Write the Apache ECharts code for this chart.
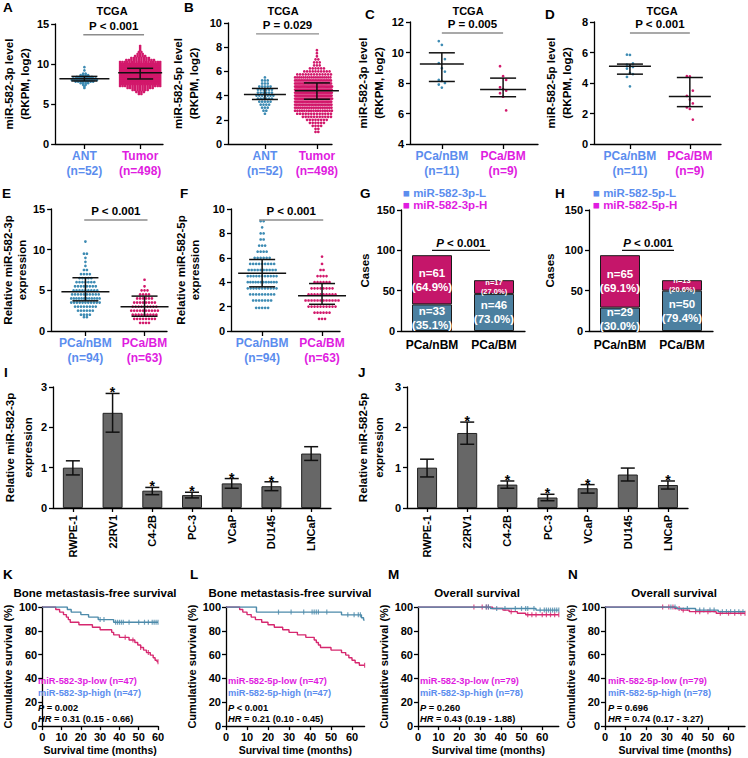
<!DOCTYPE html>
<html>
<head>
<meta charset="utf-8">
<script src="https://cdn.jsdelivr.net/npm/echarts@6/dist/echarts.min.js"></script>
<style>
html,body{margin:0;padding:0;background:#fff;}
#chart{width:748px;height:758px;}
</style>
</head>
<body>
<div id="chart"></div>
<script>
// ================= DATA =================
// --- A: TCGA miR-582-3p level; beeswarm given as [value, count] ---
const A_cats = ['ANT', 'Tumor'];
const A_n = [52, 498];
const A_antBins = [[7.0,1],[7.2,1],[7.4,2],[7.6,4],[7.8,8],[8.0,11],[8.2,10],[8.4,7],[8.6,4],[8.8,2],[9.2,1],[9.6,1]];
const A_tumorBins = [[6.25,2],[6.5,4],[6.75,7],[7.0,11],[7.25,17],[7.5,24],[7.75,31],[8.0,37],[8.25,42],[8.5,44],[8.75,46],[9.0,45],[9.25,42],[9.5,38],[9.75,32],[10.0,25],[10.25,18],[10.5,12],[10.75,8],[11.0,5],[11.25,3],[11.5,2],[11.75,1],[12.0,1],[12.25,1]];
const A_stats = [[8.17,7.88,8.45],[8.92,8.13,9.46]]; // [centre, low, high]
const A_p = 'P < 0.001';

// --- B: TCGA miR-582-5p level ---
const B_cats = ['ANT', 'Tumor'];
const B_n = [52, 498];
const B_antBins = [[2.5,1],[2.75,2],[3.0,3],[3.25,4],[3.5,5],[3.75,6],[4.0,7],[4.25,6],[4.5,6],[4.75,5],[5.0,3],[5.25,3],[5.5,1]];
const B_tumorBins = [[1.0,2],[1.25,2],[1.5,4],[1.75,6],[2.0,8],[2.25,11],[2.5,15],[2.75,20],[3.0,25],[3.25,31],[3.5,36],[3.75,40],[4.0,44],[4.25,45],[4.5,44],[4.75,40],[5.0,35],[5.25,29],[5.5,22],[5.75,15],[6.0,10],[6.25,6],[6.5,3],[6.75,3],[7.0,2],[7.25,1],[7.5,1],[7.75,1]];
const B_stats = [[4.09,3.68,4.59],[4.4,3.7,5.05]];
const B_p = 'P = 0.029';

// --- C: TCGA miR-582-3p, nBM vs BM ---
const C_cats = ['PCa/nBM', 'PCa/BM'];
const C_n = [11, 9];
const C_nbm = [10.75,10.5,9.57,9.3,8.97,8.75,8.2,8.14,8.0,7.9,7.7];
const C_bm = [9.1,8.45,8.2,7.72,7.6,7.5,7.33,7.1,6.2];
const C_stats = [[9.25,8.1,9.98],[7.57,7.1,8.32]];
const C_p = 'P = 0.005';

// --- D: TCGA miR-582-5p, nBM vs BM ---
const D_cats = ['PCa/nBM', 'PCa/BM'];
const D_n = [11, 9];
const D_nbm = [5.86,5.84,5.28,5.2,5.1,5.05,4.95,4.66,4.58,4.4,3.78];
const D_bm = [4.45,4.43,3.5,3.16,2.92,2.66,2.4,2.3,1.6];
const D_stats = [[5.1,4.58,5.24],[3.12,2.45,4.36]];
const D_p = 'P < 0.001';

// --- E: relative miR-582-3p expression ---
const E_cats = ['PCa/nBM', 'PCa/BM'];
const E_n = [94, 63];
const E_nbmBins = [[1.7,2],[2.0,4],[2.5,6],[3.0,8],[3.5,11],[4.0,12],[4.5,10],[5.0,9],[5.5,8],[6.0,7],[6.5,5],[7.0,4],[7.5,2],[8.0,1],[8.5,1],[9.0,1],[9.5,2],[11.0,1]];
const E_bmBins = [[1.0,4],[1.5,8],[2.0,9],[2.5,10],[3.0,9],[3.5,8],[4.0,6],[4.5,4],[5.0,3],[5.5,1],[6.3,1]];
const E_stats = [[4.82,3.71,6.55],[2.97,1.81,4.29]];
const E_p = 'P < 0.001';

// --- F: relative miR-582-5p expression ---
const F_cats = ['PCa/nBM', 'PCa/BM'];
const F_n = [94, 63];
const F_nbmBins = [[1.9,5],[2.5,7],[3.0,9],[3.5,11],[4.0,12],[4.5,11],[5.0,10],[5.5,9],[6.0,6],[6.5,4],[7.0,3],[7.5,2],[8.0,2],[8.5,1],[9.0,2]];
const F_bmBins = [[1.0,3],[1.5,6],[2.0,10],[2.5,12],[3.0,10],[3.5,8],[4.0,6],[4.5,4],[5.0,2],[5.5,1],[6.1,1]];
const F_stats = [[4.74,3.62,5.86],[2.88,2.19,3.89]];
const F_p = 'P < 0.001';

// --- G / H: stacked case counts ---
const GH_cats = ['PCa/nBM', 'PCa/BM'];
const G_low = [33, 46];
const G_high = [61, 17];
const G_lowPct = ['35.1%', '73.0%'];
const G_highPct = ['64.9%', '27.0%'];
const G_legend = ['miR-582-3p-L', 'miR-582-3p-H'];
const H_low = [29, 50];
const H_high = [65, 13];
const H_lowPct = ['30.0%', '79.4%'];
const H_highPct = ['69.1%', '20.6%'];
const H_legend = ['miR-582-5p-L', 'miR-582-5p-H'];
const GH_p = ' < 0.001';

// --- I / J: cell lines ---
const cellLines = ['RWPE-1', '22RV1', 'C4-2B', 'PC-3', 'VCaP', 'DU145', 'LNCaP'];
const I_mean = [1.0, 2.36, 0.43, 0.32, 0.61, 0.54, 1.35];
const I_low  = [0.82, 1.88, 0.33, 0.25, 0.49, 0.43, 1.18];
const I_high = [1.17, 2.84, 0.51, 0.39, 0.73, 0.65, 1.52];
const I_star = [0, 1, 1, 1, 1, 1, 0];
const J_mean = [1.0, 1.86, 0.58, 0.26, 0.49, 0.83, 0.57];
const J_low  = [0.77, 1.58, 0.49, 0.18, 0.37, 0.67, 0.47];
const J_high = [1.21, 2.13, 0.67, 0.34, 0.58, 0.99, 0.67];
const J_star = [0, 1, 1, 1, 1, 0, 1];

// --- K-N: Kaplan-Meier curves [months, survival %] and censor times ---
const K_low = [[0,100],[7,97.9],[9,95.7],[11,93.6],[12.5,91.5],[13.5,89.4],[14.5,87.2],[19,85.1],[26,83],[30,80.9],[36,78.7],[37,76.6],[40,74.5],[45,72.3],[48,70.2],[49.5,68.1],[51,66],[52.5,63.8],[54,61.7],[56,59.6],[57.5,57.4],[58.5,55.3],[59.5,54],[60,54]];
const K_lowCens = [43, 47, 51, 55, 60];
const K_high = [[0,100],[13,97.9],[15,95.7],[20,93.6],[24,91.5],[29,89.4],[37,87.2],[60,87.2]];
const K_highCens = [30, 32, 38, 39, 40, 41, 42, 45, 50, 53, 55, 57, 58, 59, 60];
const L_low = [[0,100],[6.5,97.9],[8,95.7],[10,93.6],[12,91.5],[14,89.4],[17,87.2],[20,85.1],[23,83],[27,80.9],[30,78.7],[34,76.6],[38,74.5],[42,72.3],[43,70.2],[44,68.1],[45,66],[50,63.8],[55,61.7],[57,59.6],[58.5,57.4],[60,55.3],[61.5,53.2],[63.5,51.1],[66,51.1]];
const L_lowCens = [66];
const L_high = [[0,100],[14.5,95.7],[55,93.4],[64.5,91],[65.5,89],[66,89]];
const L_highCens = [25, 31, 37, 41, 42, 43, 44, 48, 58, 61, 63, 64];
const M_low = [[0,100],[36,98.7],[41,97.4],[44,96.1],[48,94.8],[52,93.5],[68,93.5]];
const M_lowCens = [27, 31, 33, 34, 45, 53, 55, 57, 60, 62, 64, 66, 68];
const M_high = [[0,100],[35,98.7],[57,97.4],[68,97.4]];
const M_highCens = [33, 34, 38, 42, 47, 50, 52, 53, 56, 59, 61, 62, 63, 64, 65, 66, 67, 68];
const N_low = [[0,100],[34,98.7],[37,97.4],[41,96.1],[54,94.8],[68,94.8]];
const N_lowCens = [28, 31, 33, 36, 38, 44, 46, 50, 56, 60, 63, 66, 68];
const N_high = [[0,100],[35,98.7],[44,97.4],[55,96.1],[68,96.1]];
const N_highCens = [32, 34, 40, 46, 48, 51, 53, 57, 59, 61, 63, 65, 67];
const K_legend = ['miR-582-3p-low (n=47)', 'miR-582-3p-high (n=47)', '= 0.002', '= 0.31 (0.15 - 0.66)'];
const L_legend = ['miR-582-5p-low (n=47)', 'miR-582-5p-high (n=47)', '< 0.001', '= 0.21 (0.10 - 0.45)'];
const M_legend = ['miR-582-3p-low (n=79)', 'miR-582-3p-high (n=78)', '= 0.260', '= 0.43 (0.19 - 1.88)'];
const N_legend = ['miR-582-5p-low (n=79)', 'miR-582-5p-high (n=78)', '= 0.696', '= 0.74 (0.17 - 3.27)'];

// ================= STYLE / LAYOUT =================
const F = '"Liberation Sans", Arial, Helvetica, sans-serif';
const C_LBLUE = '#5B8DEE', C_MAG = '#E01CE0';
const C_PBLUE = '#3D8BB3', C_PRED = '#D2186B';
const C_BAR_B = '#4C80A0', C_BAR_R = '#C5166A';
const C_GRAY = '#676767';
const C_KM_R = '#D6286F', C_KM_B = '#4C8AAA';

const LAYOUT = {
  A:{l:49,t:24,w:114,h:120,xr:[-0.525,1.41],ng:16,lh:16, half:[0.42,0.36], mean:[25,22], dx:0.045},
  B:{l:228,t:23,w:104,h:121,xr:[-0.71,1.29],ng:26,lh:16, half:[0.27,0.42], mean:[21,22], dx:0.054},
  C:{l:410,t:22,w:128,h:122,xr:[-0.52,1.57],ng:23,lh:16, mean:[22,23]},
  D:{l:594,t:22,w:127,h:122,xr:[-0.6,1.52],ng:19,lh:16, mean:[21,21]},
  E:{l:49,t:209,w:118,h:122,xr:[-0.58,1.38],ng:20,lh:14, half:[0.24,0.32], mean:[24,24], dx:0.05},
  F:{l:231,t:209,w:109,h:122,xr:[-0.52,1.3],ng:29,lh:14, half:[0.24,0.35], mean:[24,24], dx:0.05},
  G:{l:401,t:210,w:124,h:121,ng:29},
  H:{l:589,t:210,w:124,h:121,ng:32},
  I:{l:48,t:387,w:283,h:121,ng:16,lh:18},
  J:{l:407,t:387,w:281,h:121,ng:20,lh:16},
  K:{l:36,t:607,w:122,h:120,ng:24},
  L:{l:226,t:607,w:138.6,h:120,ng:18},
  M:{l:418,t:607,w:140.8,h:120,ng:25},
  N:{l:605,t:607,w:140,h:120,ng:22}
};

function merge(a, b) {
  const out = Object.assign({}, a);
  for (const k in b) {
    const bv = b[k], av = a ? a[k] : undefined;
    if (bv && typeof bv === 'object' && !Array.isArray(bv) && av && typeof av === 'object' && !Array.isArray(av)) out[k] = merge(av, bv);
    else out[k] = bv;
  }
  return out;
}

const AXC = {color:'#000', width:1.3};
const axisBase = {
  axisLine:{show:true, onZero:false, lineStyle:AXC},
  axisTick:{show:true, inside:false, length:4, lineStyle:AXC},
  axisLabel:{color:'#000', fontWeight:'bold', fontSize:11, fontFamily:F, margin:6},
  splitLine:{show:false},
  nameTextStyle:{color:'#000', fontWeight:'bold', fontSize:11.5, fontFamily:F, lineHeight:14}
};

const option = {animation:false, backgroundColor:'#fff', textStyle:{fontFamily:F}, title:[], grid:[], xAxis:[], yAxis:[], series:[]};

function addGrid(b) {
  option.grid.push({left:b.l, top:b.t, width:b.w, height:b.h, containLabel:false});
  return option.grid.length - 1;
}
function txt(text, x, cy, o) {
  o = o || {};
  const fs = o.fs || 11.5, lh = o.lh || Math.round(fs * 1.25);
  option.title.push({text:text, left:x, top:cy - lh / 2, padding:0, textAlign:o.align || 'left',
    textStyle:{fontFamily:F, fontWeight:'bold', fontSize:fs, lineHeight:lh, color:o.color || '#000', rich:o.rich || {}}});
}
function swarm(bins, cx, dx, half) {
  const out = [];
  bins.forEach(([v, n]) => {
    const step = n > 1 ? Math.min(dx, 2 * half / (n - 1)) : 0;
    for (let k = 0; k < n; k++) out.push([cx + (k - (n - 1) / 2) * step, v]);
  });
  return out;
}
function jitter(vals, cx, j) {
  return vals.map((v, k) => [cx + ((k % 3) - 1) * j, v]);
}
function survAt(curve, t) {
  let s = curve[0][1];
  for (const p of curve) { if (p[0] <= t) s = p[1]; }
  return s;
}
function pBracket(i, x0, x1, y, label, o) {
  option.series.push({type:'custom', xAxisIndex:i, yAxisIndex:i, silent:true, z:10, clip:false,
    encode:{x:0, y:2}, data:[[x0, x1, y]],
    renderItem:(p, api) => {
      const a = api.coord([api.value(0), api.value(2)]);
      const b = api.coord([api.value(1), api.value(2)]);
      const xa = a[0] + (o.inset ? o.inset[0] : 0), xb = b[0] - (o.inset ? o.inset[1] : 0);
      return {type:'group', children:[
        {type:'line', shape:{x1:xa, y1:a[1], x2:xb, y2:b[1]}, style:{stroke:o.lineColor, lineWidth:1.4}},
        {type:'text', style:{text:label, x:(xa + xb) / 2, y:a[1] - o.off, align:'center', verticalAlign:'middle',
          fontSize:11.5, fontWeight:'bold', fontFamily:F, fill:'#000', rich:o.rich || {}}}
      ]};
    }});
}
function errSeries(i, stats, meanHalf, capHalf) {
  option.series.push({type:'custom', xAxisIndex:i, yAxisIndex:i, silent:true, z:5, clip:false,
    encode:{x:0, y:[1, 2, 3]}, data:stats.map((s, k) => [k, s[0], s[1], s[2]]),
    renderItem:(p, api) => {
      const x = api.value(0);
      const m = api.coord([x, api.value(1)]), lo = api.coord([x, api.value(2)]), hi = api.coord([x, api.value(3)]);
      const st = {stroke:'#111', lineWidth:1.5};
      const mh = meanHalf[p.dataIndex];
      return {type:'group', children:[
        {type:'line', shape:{x1:m[0] - mh, y1:m[1], x2:m[0] + mh, y2:m[1]}, style:st},
        {type:'line', shape:{x1:lo[0], y1:lo[1], x2:hi[0], y2:hi[1]}, style:st},
        {type:'line', shape:{x1:lo[0] - capHalf, y1:lo[1], x2:lo[0] + capHalf, y2:lo[1]}, style:st},
        {type:'line', shape:{x1:hi[0] - capHalf, y1:hi[1], x2:hi[0] + capHalf, y2:hi[1]}, style:st}
      ]};
    }});
}

// ---------- scatter (dot plot) panels ----------
function scatterPanel(key, cfg) {
  const b = LAYOUT[key];
  const i = addGrid(b);
  option.xAxis.push(merge(axisBase, {type:'value', gridIndex:i, min:b.xr[0], max:b.xr[1],
    axisTick:{customValues:[0, 1], length:5},
    axisLabel:{customValues:[0, 1], margin:4,
      formatter:(v) => { const k = Math.round(v); return '{c' + k + '|' + cfg.cats[k] + '}\n{c' + k + '|(n=' + cfg.n[k] + ')}'; },
      rich:{c0:{color:C_LBLUE, fontWeight:'bold', fontSize:12, fontFamily:F, lineHeight:15},
            c1:{color:C_MAG, fontWeight:'bold', fontSize:12, fontFamily:F, lineHeight:15}}}}));
  option.yAxis.push(merge(axisBase, {type:'value', gridIndex:i, min:cfg.y[0], max:cfg.y[1], interval:cfg.y[2],
    name:cfg.yname, nameLocation:'middle', nameGap:b.ng, nameTextStyle:{lineHeight:b.lh}}));
  cfg.groups.forEach((pts, k) => {
    option.series.push({type:'scatter', xAxisIndex:i, yAxisIndex:i, data:pts, symbol:'circle', symbolSize:2.7,
      itemStyle:{color:k === 0 ? C_PBLUE : C_PRED, opacity:1}, silent:true, z:2});
  });
  errSeries(i, cfg.stats, b.mean, 13);
  pBracket(i, cfg.px[0], cfg.px[1], cfg.y[1] - (cfg.y[1] - cfg.y[0]) * 0.09, cfg.p, {lineColor:'#8c8c8c', off:9});
}

const yn3 = 'miR-582-3p level\n(RKPM, log2)';
const yn5 = 'miR-582-5p level\n(RKPM, log2)';
scatterPanel('A', {cats:A_cats, n:A_n, y:[0, 15, 5], yname:yn3, stats:A_stats, p:A_p, px:[-0.02, 1.07],
  groups:[swarm(A_antBins, 0, LAYOUT.A.dx, LAYOUT.A.half[0]), swarm(A_tumorBins, 1, LAYOUT.A.dx, LAYOUT.A.half[1])]});
scatterPanel('B', {cats:B_cats, n:B_n, y:[0, 10, 2], yname:yn5, stats:B_stats, p:B_p, px:[-0.17, 1.04],
  groups:[swarm(B_antBins, 0, LAYOUT.B.dx, LAYOUT.B.half[0]), swarm(B_tumorBins, 1, LAYOUT.B.dx, LAYOUT.B.half[1])]});
scatterPanel('C', {cats:C_cats, n:C_n, y:[4, 12, 2], yname:yn3, stats:C_stats, p:C_p, px:[0, 1],
  groups:[jitter(C_nbm, 0, 0.05), jitter(C_bm, 1, 0.05)]});
scatterPanel('D', {cats:D_cats, n:D_n, y:[0, 8, 2], yname:yn5, stats:D_stats, p:D_p, px:[0, 1],
  groups:[jitter(D_nbm, 0, 0.05), jitter(D_bm, 1, 0.05)]});
scatterPanel('E', {cats:E_cats, n:E_n, y:[0, 15, 5], yname:'Relative miR-582-3p\nexpression', stats:E_stats, p:E_p, px:[-0.02, 1.05],
  groups:[swarm(E_nbmBins, 0, LAYOUT.E.dx, LAYOUT.E.half[0]), swarm(E_bmBins, 1, LAYOUT.E.dx, LAYOUT.E.half[1])]});
scatterPanel('F', {cats:F_cats, n:F_n, y:[0, 10, 2], yname:'Relative miR-582-5p\nexpression', stats:F_stats, p:F_p, px:[-0.05, 1.02],
  groups:[swarm(F_nbmBins, 0, LAYOUT.F.dx, LAYOUT.F.half[0]), swarm(F_bmBins, 1, LAYOUT.F.dx, LAYOUT.F.half[1])]});

// ---------- stacked bar panels ----------
function stackPanel(key, low, high, lowPct, highPct, inset) {
  const b = LAYOUT[key];
  const i = addGrid(b);
  option.xAxis.push(merge(axisBase, {type:'category', gridIndex:i, data:GH_cats,
    axisTick:{show:false}, axisLabel:{fontSize:12, margin:8, interval:0}}));
  option.yAxis.push(merge(axisBase, {type:'value', gridIndex:i, min:0, max:150, interval:50,
    name:'Cases', nameLocation:'middle', nameGap:b.ng}));
  const rich = {b:{color:'#fff', fontWeight:'bold', fontSize:11.5, fontFamily:F, lineHeight:14},
                s:{color:'#fff', fontWeight:'bold', fontSize:7.5, fontFamily:F, lineHeight:9}};
  const mk = (vals, pcts) => (p) => {
    const k = p.dataIndex, t = vals[k] < 20 ? 's' : 'b';
    return '{' + t + '|n=' + vals[k] + '}\n{' + t + '|(' + pcts[k] + ')}';
  };
  option.series.push({type:'bar', xAxisIndex:i, yAxisIndex:i, stack:'s' + key, data:low, barWidth:40,
    itemStyle:{color:C_BAR_B, borderColor:'#1a1a1a', borderWidth:1},
    label:{show:true, position:'inside', formatter:mk(low, lowPct), rich:rich}, silent:true});
  option.series.push({type:'bar', xAxisIndex:i, yAxisIndex:i, stack:'s' + key, data:high, barWidth:40,
    itemStyle:{color:C_BAR_R, borderColor:'#1a1a1a', borderWidth:1},
    label:{show:true, position:'inside', formatter:mk(high, highPct), rich:rich}, silent:true});
  pBracket(i, 0, 1, 100, '{i|P}' + GH_p, {lineColor:'#111', off:7, inset:inset,
    rich:{i:{fontStyle:'italic', fontWeight:'bold', fontSize:11.5, fontFamily:F, fill:'#000'}}});
}
stackPanel('G', G_low, G_high, G_lowPct, G_highPct, [0, 4]);
stackPanel('H', H_low, H_high, H_lowPct, H_highPct, [2, 8]);

// ---------- cell-line bar panels ----------
function barPanel(key, mean, lo, hi, star, yname) {
  const b = LAYOUT[key];
  const i = addGrid(b);
  option.xAxis.push(merge(axisBase, {type:'category', gridIndex:i, data:cellLines,
    axisTick:{alignWithLabel:true, length:4}, axisLabel:{rotate:90, fontSize:11, margin:7, interval:0}}));
  option.yAxis.push(merge(axisBase, {type:'value', gridIndex:i, min:0, max:3, interval:1,
    name:yname, nameLocation:'middle', nameGap:b.ng, nameTextStyle:{lineHeight:b.lh}}));
  option.series.push({type:'bar', xAxisIndex:i, yAxisIndex:i, data:mean, barWidth:20,
    itemStyle:{color:C_GRAY, borderColor:'#222', borderWidth:1}, silent:true});
  option.series.push({type:'custom', xAxisIndex:i, yAxisIndex:i, silent:true, z:5, clip:false,
    encode:{x:0, y:[1, 2]}, data:mean.map((m, k) => [k, lo[k], hi[k], star[k]]),
    renderItem:(p, api) => {
      const x = api.value(0);
      const a = api.coord([x, api.value(1)]), c = api.coord([x, api.value(2)]);
      const st = {stroke:'#111', lineWidth:1.5};
      const ch = [
        {type:'line', shape:{x1:a[0], y1:a[1], x2:c[0], y2:c[1]}, style:st},
        {type:'line', shape:{x1:a[0] - 7, y1:a[1], x2:a[0] + 7, y2:a[1]}, style:st},
        {type:'line', shape:{x1:c[0] - 7, y1:c[1], x2:c[0] + 7, y2:c[1]}, style:st}
      ];
      if (api.value(3)) ch.push({type:'text', style:{text:'*', x:c[0], y:c[1] - 1, align:'center', verticalAlign:'middle',
        fontSize:14, fontWeight:'bold', fontFamily:F, fill:'#000'}});
      return {type:'group', children:ch};
    }});
}
barPanel('I', I_mean, I_low, I_high, I_star, 'Relative miR-582-3p\nexpression');
barPanel('J', J_mean, J_low, J_high, J_star, 'Relative miR-582-5p\nexpression');

// ---------- survival panels ----------
function survPanel(key, xmax, low, lowCens, high, highCens) {
  const b = LAYOUT[key];
  const i = addGrid(b);
  const ticks = [0, 10, 20, 30, 40, 50, 60];
  option.xAxis.push(merge(axisBase, {type:'value', gridIndex:i, min:0, max:xmax,
    axisTick:{customValues:ticks}, axisLabel:{customValues:ticks, margin:5},
    name:'Survival time (months)', nameLocation:'middle', nameGap:16, nameTextStyle:{fontSize:10.5}}));
  option.yAxis.push(merge(axisBase, {type:'value', gridIndex:i, min:0, max:100, interval:20, axisLabel:{margin:5},
    name:'Cumulative survival (%)', nameLocation:'middle', nameGap:b.ng, nameTextStyle:{fontSize:11}}));
  [[low, lowCens, C_KM_R], [high, highCens, C_KM_B]].forEach(([curve, cens, col]) => {
    option.series.push({type:'line', xAxisIndex:i, yAxisIndex:i, data:curve, step:'end', showSymbol:false, symbol:'none',
      lineStyle:{color:col, width:1.4}, itemStyle:{color:col}, silent:true});
    option.series.push({type:'scatter', xAxisIndex:i, yAxisIndex:i, data:cens.map(t => [t, survAt(curve, t)]),
      symbol:'rect', symbolSize:[1.2, 5], itemStyle:{color:col}, silent:true});
  });
}
survPanel('K', 60, K_low, K_lowCens, K_high, K_highCens);
survPanel('L', 66, L_low, L_lowCens, L_high, L_highCens);
survPanel('M', 68, M_low, M_lowCens, M_high, M_highCens);
survPanel('N', 68, N_low, N_lowCens, N_high, N_highCens);

// ---------- texts ----------
[['A',3,7],['B',184,7],['C',365,14],['D',545,14],['E',2,193],['F',180,193],['G',360,193],['H',555,193],
 ['I',4,372],['J',358,372],['K',3,574],['L',190,574],['M',388,574],['N',568,574]].forEach(([t, x, y]) => txt(t, x, y, {fs:13.5}));
[[112],[283],[468],[662]].forEach(([x]) => txt('TCGA', x, 11, {fs:11, align:'center'}));
txt('Bone metastasis-free survival', 95, 593, {fs:11.5, align:'center'});
txt('Bone metastasis-free survival', 290, 593, {fs:11.5, align:'center'});
txt('Overall survival', 477, 593, {fs:11.5, align:'center'});
txt('Overall survival', 674, 593, {fs:11.5, align:'center'});
txt('\u25A0 ' + G_legend[0], 403, 193, {fs:11.5, color:C_LBLUE});
txt('\u25A0 ' + G_legend[1], 403, 205, {fs:11.5, color:C_MAG});
txt('\u25A0 ' + H_legend[0], 593, 193, {fs:11.5, color:C_LBLUE});
txt('\u25A0 ' + H_legend[1], 593, 205, {fs:11.5, color:C_MAG});
const itRich = {i:{fontStyle:'italic', fontWeight:'bold', fontSize:9.3, fontFamily:F, color:'#000'}};
[[38, K_legend], [228, L_legend], [420, M_legend], [608, N_legend]].forEach(([x, lg]) => {
  txt(lg[0], x, 681, {fs:9.3, color:C_MAG});
  txt(lg[1], x, 693, {fs:9.3, color:C_LBLUE});
  txt('{i|P} ' + lg[2], x, 708, {fs:9.3, rich:itRich});
  txt('{i|HR} ' + lg[3], x, 719, {fs:9.3, rich:itRich});
});

const chart = echarts.init(document.getElementById('chart'), null, {renderer:'svg'});
chart.setOption(option);
</script>
</body>
</html>
